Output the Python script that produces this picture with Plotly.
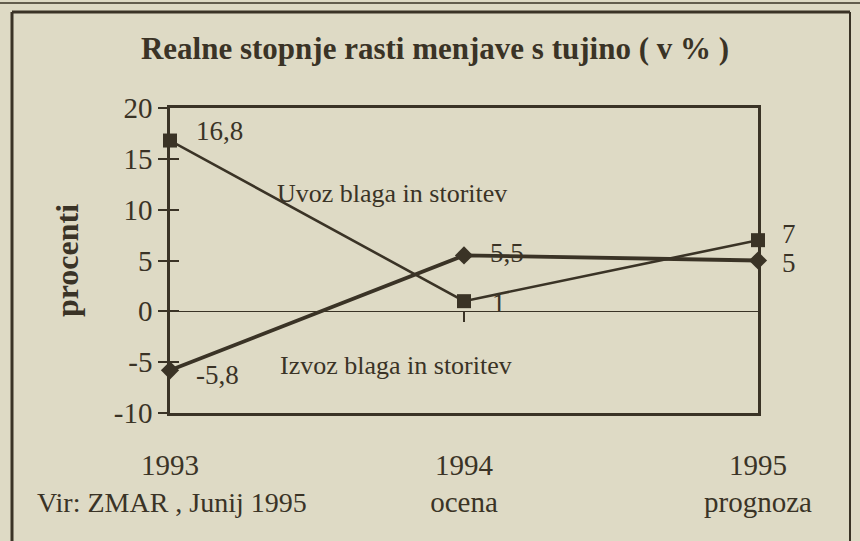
import plotly.graph_objects as go

# ---- data ----
years = ["1993", "1994", "1995"]
year_sub = ["", "ocena", "prognoza"]
uvoz = [16.8, 1, 7]          # Uvoz blaga in storitev (import)
izvoz = [-5.8, 5.5, 5]       # Izvoz blaga in storitev (export)
uvoz_labels = ["16,8", "1", "7"]
izvoz_labels = ["-5,8", "5,5", "5"]
y_ticks = [-10, -5, 0, 5, 10, 15, 20]
y_ticktext = ["-10", "-5", "0", "5", "10", "15", "20"]

INK = "#3a3326"
BG = "#dedac5"
FONT = "Liberation Serif"

# plot area in pixels
L, R, T, B = 170, 758, 108, 413
W, H = 860, 541

def px(xp):
    return (xp - L) / (R - L)

def py(yp):
    return (B - yp) / (B - T)

xpos = list(range(len(years)))

fig = go.Figure()
fig.add_trace(go.Scatter(
    x=xpos, y=uvoz, mode="lines+markers",
    line=dict(color=INK, width=2.6),
    marker=dict(symbol="square", size=14, color=INK),
    cliponaxis=False, showlegend=False, hoverinfo="skip"))
fig.add_trace(go.Scatter(
    x=xpos, y=izvoz, mode="lines+markers",
    line=dict(color=INK, width=3.8),
    marker=dict(symbol="diamond", size=14, color=INK),
    cliponaxis=False, showlegend=False, hoverinfo="skip"))

# point labels
u_shift = [(24, 10), (26, -2), (22, 6)]
i_shift = [(24, -5), (24, 2), (22, -2)]
ann = []
for i in range(3):
    ann.append(dict(x=xpos[i], y=uvoz[i], text=uvoz_labels[i], showarrow=False,
                    xanchor="left", yanchor="middle",
                    xshift=u_shift[i][0], yshift=u_shift[i][1],
                    font=dict(family=FONT, size=27, color=INK)))
    ann.append(dict(x=xpos[i], y=izvoz[i], text=izvoz_labels[i], showarrow=False,
                    xanchor="left", yanchor="middle",
                    xshift=i_shift[i][0], yshift=i_shift[i][1],
                    font=dict(family=FONT, size=27, color=INK)))

# series names
ann.append(dict(x=px(392), y=py(193), xref="paper", yref="paper",
                xanchor="center", yanchor="middle",
                text="Uvoz blaga in storitev", showarrow=False,
                font=dict(family=FONT, size=26, color=INK)))
ann.append(dict(x=px(396), y=py(365), xref="paper", yref="paper",
                xanchor="center", yanchor="middle",
                text="Izvoz blaga in storitev", showarrow=False,
                font=dict(family=FONT, size=26, color=INK)))
# source
ann.append(dict(x=px(35), y=py(503), xref="paper", yref="paper",
                xanchor="left", yanchor="middle",
                text="Vir: ZMAR , Junij 1995", showarrow=False,
                font=dict(family=FONT, size=28, color=INK)))

ticktext = [y if s == "" else f"{y}<br>{s}" for y, s in zip(years, year_sub)]

fig.update_layout(
    width=W, height=H,
    margin=dict(l=L, r=W - R, t=T, b=H - B),
    paper_bgcolor=BG, plot_bgcolor=BG,
    font=dict(family=FONT, color=INK, size=26),
    title=dict(text="<b>Realne stopnje rasti menjave s tujino ( v % )</b>",
               x=px(435), xref="paper", xanchor="center",
               y=1 - 48 / H, yanchor="middle",
               font=dict(family=FONT, size=31, color=INK)),
    xaxis=dict(range=[0, 2], tickvals=xpos, ticktext=ticktext,
               showline=True, mirror=True, linecolor=INK, linewidth=2.5,
               ticks="", showgrid=False, zeroline=False,
               ticklabelstandoff=24,
               tickfont=dict(family=FONT, size=29, color=INK)),
    xaxis2=dict(range=[0, 2], overlaying="x", anchor="free", position=1/3,
                side="bottom", tickvals=[1], ticks="outside", ticklen=10,
                tickwidth=1.5, tickcolor=INK, showticklabels=False,
                showline=False, showgrid=False, zeroline=False),
    yaxis=dict(range=[-10, 20], tickvals=y_ticks, ticktext=y_ticktext,
               showline=True, mirror=True, linecolor=INK, linewidth=2.5,
               ticks="outside", ticklen=9, tickwidth=1.5, tickcolor=INK,
               showgrid=False, zeroline=True, zerolinecolor=INK, zerolinewidth=1.3,
               tickfont=dict(family=FONT, size=29, color=INK),
               title=dict(text="<b>procenti</b>", standoff=26,
                          font=dict(family=FONT, size=32, color=INK))),
    yaxis2=dict(range=[-10, 20], overlaying="y", tickvals=y_ticks,
                ticks="inside", ticklen=9, tickwidth=1.5, tickcolor=INK,
                showticklabels=False, showgrid=False, zeroline=False, showline=False),
    annotations=ann,
    shapes=[
        # outer frame
        dict(type="line", xref="paper", yref="paper", x0=px(12), x1=px(12),
             y0=py(12), y1=py(560), line=dict(color=INK, width=3)),
        dict(type="line", xref="paper", yref="paper", x0=px(12), x1=px(850),
             y0=py(12), y1=py(12), line=dict(color=INK, width=3)),
        dict(type="line", xref="paper", yref="paper", x0=px(850), x1=px(850),
             y0=py(12), y1=py(560), line=dict(color=INK, width=2)),
        dict(type="line", xref="paper", yref="paper", x0=px(0), x1=px(860),
             y0=py(3), y1=py(3), line=dict(color=INK, width=1.5)),
    ],
)
# dummy trace to activate overlay axes
fig.add_trace(go.Scatter(x=[None], y=[None], xaxis="x2", yaxis="y2",
                         showlegend=False, hoverinfo="skip"))

fig.write_html("out.html", config={"displayModeBar": False},
               post_script="document.body.style.margin='0';document.body.style.overflow='hidden';")
